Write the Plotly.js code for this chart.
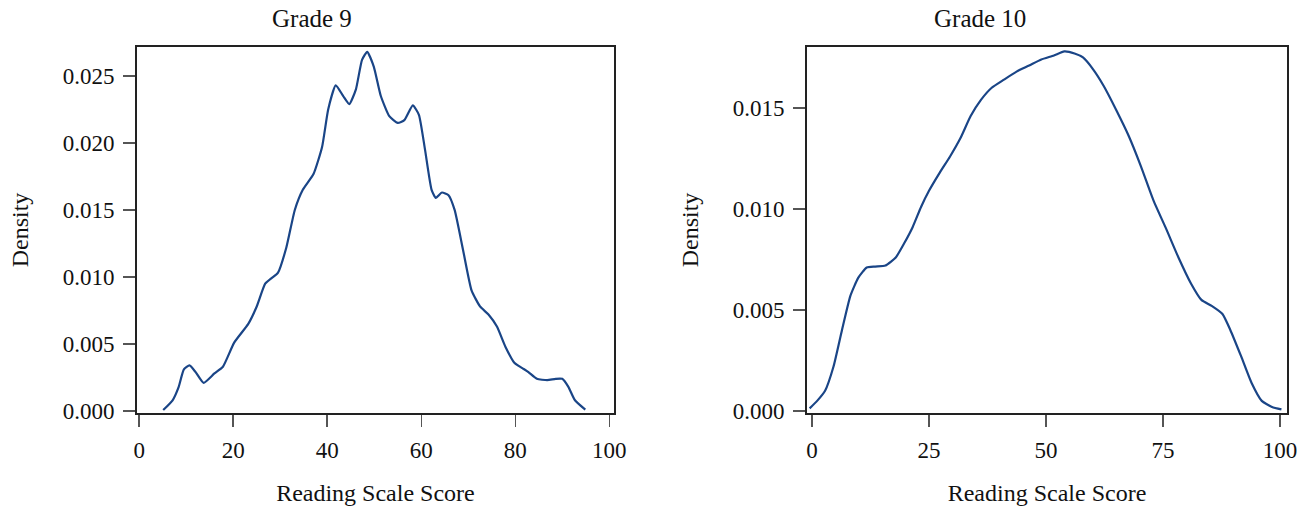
<!DOCTYPE html>
<html>
<head>
<meta charset="utf-8">
<script src="https://cdn.plot.ly/plotly-3.0.1.min.js"></script>
<style>html,body{margin:0;padding:0;background:#fff;}#chart{width:1310px;height:509px;}</style>
</head>
<body>
<div id="chart"></div>
<script>
// Grade 9 density curve (reading scale score vs density)
const g9Score = [5.1, 7.1, 8.4, 9.5, 10.7, 12.0, 13.7, 16.0, 17.8, 20.2, 23.2, 25.0, 26.8, 28.1, 29.5, 31.3, 33.1, 34.8, 37.1, 38.9, 40.2, 41.8, 43.4, 44.7, 46.1, 47.4, 48.5, 49.9, 51.4, 53.2, 55.0, 56.4, 58.2, 59.5, 60.8, 62.2, 63.1, 64.4, 65.8, 67.1, 68.9, 70.7, 72.5, 74.3, 76.1, 77.9, 79.8, 81.5, 82.8, 84.6, 86.8, 88.6, 90.0, 91.3, 92.7, 94.9];
const g9Density = [0.00007, 0.0008, 0.0018, 0.0031, 0.0034, 0.0029, 0.0021, 0.0028, 0.0033, 0.0051, 0.0065, 0.0078, 0.0095, 0.0099, 0.0103, 0.0122, 0.0150, 0.0165, 0.0177, 0.0197, 0.0225, 0.0243, 0.0235, 0.0229, 0.0240, 0.0262, 0.0268, 0.0257, 0.0235, 0.0220, 0.0215, 0.0217, 0.0228, 0.0221, 0.0195, 0.0165, 0.0159, 0.0163, 0.0161, 0.0150, 0.0120, 0.0090, 0.0078, 0.0072, 0.0063, 0.0048, 0.0036, 0.0032, 0.0029, 0.0024, 0.0023, 0.0024, 0.0024, 0.0018, 0.0008, 0.0001];

// Grade 10 density curve
const g10Score = [-0.5, 1.1, 2.8, 4.6, 6.4, 8.2, 9.9, 11.7, 13.5, 15.7, 17.9, 19.7, 21.5, 23.3, 25.0, 27.3, 29.5, 31.7, 33.9, 36.1, 38.4, 41.0, 43.7, 46.4, 49.0, 51.7, 53.9, 56.1, 57.9, 60.1, 62.3, 65.0, 67.7, 70.3, 73.0, 75.7, 78.3, 81.0, 83.2, 85.4, 87.7, 89.4, 91.7, 93.9, 96.1, 98.3, 100.3];
const g10Density = [0.00013, 0.0005, 0.0010, 0.0022, 0.0040, 0.0057, 0.0066, 0.0071, 0.00715, 0.0072, 0.0076, 0.0083, 0.0091, 0.0101, 0.0109, 0.0118, 0.0126, 0.0135, 0.0146, 0.0154, 0.0160, 0.0164, 0.0168, 0.0171, 0.0174, 0.0176, 0.0178, 0.0177, 0.0175, 0.0169, 0.0161, 0.0149, 0.0136, 0.0121, 0.0104, 0.0090, 0.0076, 0.0063, 0.0055, 0.0052, 0.0048, 0.0040, 0.0027, 0.0014, 0.0005, 0.0002, 0.00008];

const panelTitles = ["Grade 9", "Grade 10"];
const xTitle = "Reading Scale Score";
const yTitle = "Density";
const g9XTicks = [0, 20, 40, 60, 80, 100];
const g9YTicks = [0, 0.005, 0.010, 0.015, 0.020, 0.025];
const g10XTicks = [0, 25, 50, 75, 100];
const g10YTicks = [0, 0.005, 0.010, 0.015];

const lineColor = '#1a4587';
const fontFam = '"Liberation Serif", "Times New Roman", serif';
const tickFont = {family: fontFam, size: 23, color: '#111'};
const titleFont = {family: fontFam, size: 24, color: '#111'};

function axisBase() {
  return {
    showgrid: false, zeroline: false,
    showline: true, mirror: true, linecolor: '#222', linewidth: 1.5,
    ticks: 'outside', ticklen: 12, tickwidth: 1.5, tickcolor: '#555',
    tickfont: tickFont, ticklabelstandoff: 4
  };
}

const traces = [
  {x: g9Score, y: g9Density, type: 'scatter', mode: 'lines', line: {color: lineColor, width: 2.2, shape: 'spline', smoothing: 0.5}, xaxis: 'x', yaxis: 'y', showlegend: false, hoverinfo: 'x+y'},
  {x: g10Score, y: g10Density, type: 'scatter', mode: 'lines', line: {color: lineColor, width: 2.2, shape: 'spline', smoothing: 0.5}, xaxis: 'x2', yaxis: 'y2', showlegend: false, hoverinfo: 'x+y'}
];

const layout = {
  width: 1310, height: 509,
  margin: {l: 0, r: 0, t: 0, b: 0},
  paper_bgcolor: '#fff', plot_bgcolor: '#fff',
  showlegend: false,
  xaxis: Object.assign(axisBase(), {domain: [0.1043, 0.4689], range: [-0.55, 101.06], tickvals: g9XTicks, ticktext: g9XTicks.map(String), anchor: 'y', title: {text: xTitle, font: titleFont, standoff: 22}}),
  yaxis: Object.assign(axisBase(), {domain: [0.1886, 0.9077], range: [-0.00015, 0.02716], tickvals: g9YTicks, ticktext: g9YTicks.map(v => v.toFixed(3)), anchor: 'x', title: {text: yTitle, font: titleFont, standoff: 27}}),
  xaxis2: Object.assign(axisBase(), {domain: [0.6158, 0.9827], range: [-1.13, 101.56], tickvals: g10XTicks, ticktext: g10XTicks.map(String), anchor: 'y2', title: {text: xTitle, font: titleFont, standoff: 22}}),
  yaxis2: Object.assign(axisBase(), {domain: [0.1886, 0.9077], range: [-0.0001, 0.01802], tickvals: g10YTicks, ticktext: g10YTicks.map(v => v.toFixed(3)), anchor: 'x2', title: {text: yTitle, font: titleFont, standoff: 27}}),
  annotations: [
    {text: panelTitles[0], xref: 'paper', yref: 'paper', x: 312/1310, y: 1 - 18/509, xanchor: 'center', yanchor: 'middle', showarrow: false, font: {family: fontFam, size: 25, color: '#111'}},
    {text: panelTitles[1], xref: 'paper', yref: 'paper', x: 980/1310, y: 1 - 18/509, xanchor: 'center', yanchor: 'middle', showarrow: false, font: {family: fontFam, size: 25, color: '#111'}}
  ]
};

Plotly.newPlot('chart', traces, layout, {displayModeBar: false, staticPlot: true});
</script>
</body>
</html>
